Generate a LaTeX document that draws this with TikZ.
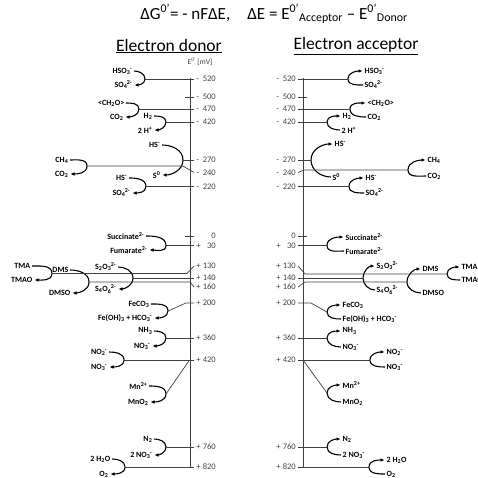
\documentclass[tikz,border=0pt]{standalone}
\usepackage{fontspec}
\setmainfont{Carlito}
\usetikzlibrary{arrows.meta,positioning}
\definecolor{lineGrey}{gray}{0.25}
\newcommand{\ion}[2]{\textsubscript{#1}\kern-0.05em\textsuperscript{#2}}
\newcommand{\lv}[2]{\makebox[0.7em][l]{#1}\makebox[1.6em][r]{#2}}
\tikzset{
  spc/.style={font=\fontsize{8}{9}\selectfont\bfseries, inner sep=0.5pt},
  don/.style={spc, anchor=east},
  acc/.style={spc, anchor=west},
  lvl/.style={font=\fontsize{8.5}{9}\selectfont, text=black!75, inner sep=2pt, anchor=east},
  react/.style={-{Latex[length=4pt,width=3.6pt]}, line width=1.1pt, shorten >=1.5pt, shorten <=1pt},
  axis/.style={line width=0.9pt, draw=lineGrey},
  level/.style={line width=0.7pt, draw=lineGrey}
}
\begin{document}
\begin{tikzpicture}[x=1pt,y=-1pt]
  \useasboundingbox (0,0) rectangle (478,478);
  \node[font=\fontsize{17}{18}\selectfont] (eq) at (274,14) {ΔG\textsuperscript{0'}= - nFΔE,\quad ΔE = E\textsuperscript{0'}\textsubscript{Acceptor} – E\textsuperscript{0'}\textsubscript{Donor}};
  \node[font=\fontsize{17.5}{18}\selectfont] (hdon) at (169,46) {\underline{Electron donor}};
  \node[font=\fontsize{17.5}{18}\selectfont] (hacc) at (356,46) {\underline{Electron acceptor}};
  \node[font=\fontsize{7.5}{8}\selectfont, text=black!75] (unit) at (200,62) {E\textsuperscript{0'} [mV]};

  \draw[axis] (190,78) -- (190,468);
  \draw[axis] (303,78) -- (303,468);

  \node[lvl] (lm520) at (218,79) {\lv{-}{520}};
  \node[lvl] (lm500) at (218,97) {\lv{-}{500}};
  \node[lvl] (lm470) at (218,109) {\lv{-}{470}};
  \node[lvl] (lm420) at (218,122) {\lv{-}{420}};
  \node[lvl] (lm270) at (218,160) {\lv{-}{270}};
  \node[lvl] (lm240) at (218,172.5) {\lv{-}{240}};
  \node[lvl] (lm220) at (218,186.5) {\lv{-}{220}};
  \node[lvl] (lz0) at (218,236) {\lv{}{0}};
  \node[lvl] (lp30) at (218,245.5) {\lv{+}{30}};
  \node[lvl] (lp130) at (218,266) {\lv{+}{130}};
  \node[lvl] (lp140) at (218,278) {\lv{+}{140}};
  \node[lvl] (lp160) at (218,287) {\lv{+}{160}};
  \node[lvl] (lp200) at (218,303) {\lv{+}{200}};
  \node[lvl] (lp360) at (218,338) {\lv{+}{360}};
  \node[lvl] (lp420) at (218,360) {\lv{+}{420}};
  \node[lvl] (lp760) at (218,447) {\lv{+}{760}};
  \node[lvl] (lp820) at (218,467) {\lv{+}{820}};

  \node[lvl] (rm520) at (298,79) {\lv{-}{520}};
  \node[lvl] (rm500) at (298,97) {\lv{-}{500}};
  \node[lvl] (rm470) at (298,109) {\lv{-}{470}};
  \node[lvl] (rm420) at (298,122) {\lv{-}{420}};
  \node[lvl] (rm270) at (298,160) {\lv{-}{270}};
  \node[lvl] (rm240) at (298,172.5) {\lv{-}{240}};
  \node[lvl] (rm220) at (298,186.5) {\lv{-}{220}};
  \node[lvl] (rz0) at (298,236) {\lv{}{0}};
  \node[lvl] (rp30) at (298,245.5) {\lv{+}{30}};
  \node[lvl] (rp130) at (298,266) {\lv{+}{130}};
  \node[lvl] (rp140) at (298,278) {\lv{+}{140}};
  \node[lvl] (rp160) at (298,287) {\lv{+}{160}};
  \node[lvl] (rp200) at (298,303) {\lv{+}{200}};
  \node[lvl] (rp360) at (298,338) {\lv{+}{360}};
  \node[lvl] (rp420) at (298,360) {\lv{+}{420}};
  \node[lvl] (rp760) at (298,447) {\lv{+}{760}};
  \node[lvl] (rp820) at (298,467) {\lv{+}{820}};

  \draw[level] (lm500.west) -- ++(-9,0);
  \draw[level] (lz0.west) -- ++(-9,0);
  \draw[level] (rm500.east) -- ++(9,0);
  \draw[level] (rz0.east) -- ++(9,0);

  \node[don] (d1a) at (133,71) {HSO\ion{3}{-}};
  \node[don] (d1b) at (133,85) {SO\ion{4}{2-}};
  \node[don] (d2a) at (125,103) {<CH\textsubscript{2}O>};
  \node[don] (d2b) at (124,117) {CO\textsubscript{2}};
  \node[don] (d3a) at (153,116) {H\textsubscript{2}};
  \node[don] (d3b) at (153,130) {2 H\textsuperscript{+}};
  \node[don] (d4a) at (161,145) {HS\textsuperscript{-}};
  \node[don] (d4b) at (161,175) {S\textsuperscript{0}};
  \node[don] (d5a) at (69,160) {CH\textsubscript{4}};
  \node[don] (d5b) at (69,174) {CO\textsubscript{2}};
  \node[don] (d6a) at (128,178) {HS\textsuperscript{-}};
  \node[don] (d6b) at (131,193) {SO\ion{4}{2-}};
  \node[don] (d7a) at (145,236) {Succinate\textsuperscript{2-}};
  \node[don] (d7b) at (148,250) {Fumarate\textsuperscript{2-}};
  \node[don] (d8a) at (117,267) {S\textsubscript{2}O\ion{3}{2-}};
  \node[don] (d8b) at (117,289) {S\textsubscript{4}O\ion{6}{2-}};
  \node[don] (d9a) at (69,270) {DMS};
  \node[don] (d9b) at (71,293) {DMSO};
  \node[don] (d10a) at (31,266) {TMA};
  \node[don] (d10b) at (33,280) {TMAO};
  \node[don] (d11a) at (150,304) {FeCO\textsubscript{3}};
  \node[don] (d11b) at (153,318) {Fe(OH)\textsubscript{3} + HCO\ion{3}{-}};
  \node[don] (d12a) at (153,331) {NH\textsubscript{3}};
  \node[don] (d12b) at (151,346) {NO\ion{3}{-}};
  \node[don] (d13a) at (108,352) {NO\ion{2}{-}};
  \node[don] (d13b) at (108,367) {NO\ion{3}{-}};
  \node[don] (d14a) at (148,386) {Mn\textsuperscript{2+}};
  \node[don] (d14b) at (149,402) {MnO\textsubscript{2}};
  \node[don] (d15a) at (153,439) {N\textsubscript{2}};
  \node[don] (d15b) at (153,455) {2 NO\ion{3}{-}};
  \node[don] (d16a) at (111,459) {2 H\textsubscript{2}O};
  \node[don] (d16b) at (109,474) {O\textsubscript{2}};

  \coordinate (d1r) at (145,79);
  \coordinate (d2r) at (139,109);
  \coordinate (d3r) at (166,122);
  \coordinate (d4r) at (183,160);
  \coordinate (d5r) at (87,166);
  \coordinate (d6r) at (146,186.5);
  \coordinate (d7r) at (166,245.5);
  \coordinate (d8r) at (133,278);
  \coordinate (d9r) at (89,282);
  \coordinate (d10r) at (52,273.5);
  \coordinate (d11r) at (168,311);
  \coordinate (d12r) at (166,338);
  \coordinate (d13r) at (124,360);
  \coordinate (d14r) at (166,394);
  \coordinate (d15r) at (166,447);
  \coordinate (d16r) at (125,467);

  \foreach \i in {1,...,16}
    \draw[react] (d\i a.east) to[out=0,in=90] (d\i r) to[out=-90,in=0] (d\i b.east);

  \draw[level] (d1r) -- (lm520.west);
  \draw[level] (d2r) -- (lm470.west);
  \draw[level] (d3r) -- (lm420.west);
  \draw[level] (d4r) -- (lm270.west);
  \draw[level] (d5r) -- (183,166) -- (lm240.west);
  \draw[level] (d6r) -- (lm220.west);
  \draw[level] (d7r) -- (lp30.west);
  \draw[level] (d10r) -- (187,273.5) -- (lp130.west);
  \draw[level] (d8r) -- (lp140.west);
  \draw[level] (d9r) -- (190,282) -- (lp160.west);
  \draw[level] (d11r) -- (186,303) -- (lp200.west);
  \draw[level] (d12r) -- (lp360.west);
  \draw[level] (d13r) -- (lp420.west);
  \draw[level] ([xshift=-4.5pt]lp420.west) -- (d14r);
  \draw[level] (d15r) -- (lp760.west);
  \draw[level] (d16r) -- (lp820.west);

  \node[acc] (a1a) at (364,71) {HSO\ion{3}{-}};
  \node[acc] (a1b) at (364,85) {SO\ion{4}{2-}};
  \node[acc] (a2a) at (367,103) {<CH\textsubscript{2}O>};
  \node[acc] (a2b) at (367,117) {CO\textsubscript{2}};
  \node[acc] (a3a) at (342,116) {H\textsubscript{2}};
  \node[acc] (a3b) at (341,130) {2 H\textsuperscript{+}};
  \node[acc] (a4a) at (334,144) {HS\textsuperscript{-}};
  \node[acc] (a4b) at (332,177) {S\textsuperscript{0}};
  \node[acc] (a5a) at (427,160) {CH\textsubscript{4}};
  \node[acc] (a5b) at (427,176) {CO\textsubscript{2}};
  \node[acc] (a6a) at (365,178) {HS\textsuperscript{-}};
  \node[acc] (a6b) at (365,193) {SO\ion{4}{2-}};
  \node[acc] (a7a) at (345,237) {Succinate\textsuperscript{2-}};
  \node[acc] (a7b) at (345,251) {Fumarate\textsuperscript{2-}};
  \node[acc] (a8a) at (376,266) {S\textsubscript{2}O\ion{3}{2-}};
  \node[acc] (a8b) at (376,290) {S\textsubscript{4}O\ion{6}{2-}};
  \node[acc] (a9a) at (422,269) {DMS};
  \node[acc] (a9b) at (422,293) {DMSO};
  \node[acc] (a10a) at (461,267) {TMA};
  \node[acc] (a10b) at (461,280) {TMAO};
  \node[acc] (a11a) at (342,305) {FeCO\textsubscript{3}};
  \node[acc] (a11b) at (342,319) {Fe(OH)\textsubscript{3} + HCO\ion{3}{-}};
  \node[acc] (a12a) at (342,331) {NH\textsubscript{3}};
  \node[acc] (a12b) at (342,347) {NO\ion{3}{-}};
  \node[acc] (a13a) at (386,352) {NO\ion{2}{-}};
  \node[acc] (a13b) at (386,367) {NO\ion{3}{-}};
  \node[acc] (a14a) at (342,385) {Mn\textsuperscript{2+}};
  \node[acc] (a14b) at (342,402) {MnO\textsubscript{2}};
  \node[acc] (a15a) at (342,439) {N\textsubscript{2}};
  \node[acc] (a15b) at (342,455) {2 NO\ion{3}{-}};
  \node[acc] (a16a) at (386,460) {2 H\textsubscript{2}O};
  \node[acc] (a16b) at (386,474) {O\textsubscript{2}};

  \coordinate (a1l) at (348,79);
  \coordinate (a2l) at (350,109);
  \coordinate (a3l) at (327,122);
  \coordinate (a4l) at (311,160);
  \coordinate (a5l) at (408,170);
  \coordinate (a6l) at (349,186.5);
  \coordinate (a7l) at (327,245.5);
  \coordinate (a8l) at (363,278);
  \coordinate (a9l) at (407,282);
  \coordinate (a10l) at (447,274);
  \coordinate (a11l) at (327,312);
  \coordinate (a12l) at (327,338);
  \coordinate (a13l) at (370,360);
  \coordinate (a14l) at (327,393);
  \coordinate (a15l) at (327,447);
  \coordinate (a16l) at (369,467);

  \foreach \i in {1,...,16}
    \draw[react] (a\i b.west) to[out=180,in=-90] (a\i l) to[out=90,in=180] (a\i a.west);

  \draw[level] (rm520.east) -- (a1l);
  \draw[level] (rm470.east) -- (a2l);
  \draw[level] (rm420.east) -- (a3l);
  \draw[level] (rm270.east) -- (a4l);
  \draw[level] (rm240.east) -- (304,170) -- (a5l);
  \draw[level] (rm220.east) -- (a6l);
  \draw[level] (rp30.east) -- (a7l);
  \draw[level] (rp130.east) -- (305,274) -- (a10l);
  \draw[level] (rp140.east) -- (a8l);
  \draw[level] (rp160.east) -- (305,282) -- (a9l);
  \draw[level] (rp200.east) -- (311,303) -- (a11l);
  \draw[level] (rp360.east) -- (a12l);
  \draw[level] (rp420.east) -- (a13l);
  \draw[level] ([xshift=5pt]rp420.east) -- (a14l);
  \draw[level] (rp760.east) -- (a15l);
  \draw[level] (rp820.east) -- (a16l);
\end{tikzpicture}
\end{document}
